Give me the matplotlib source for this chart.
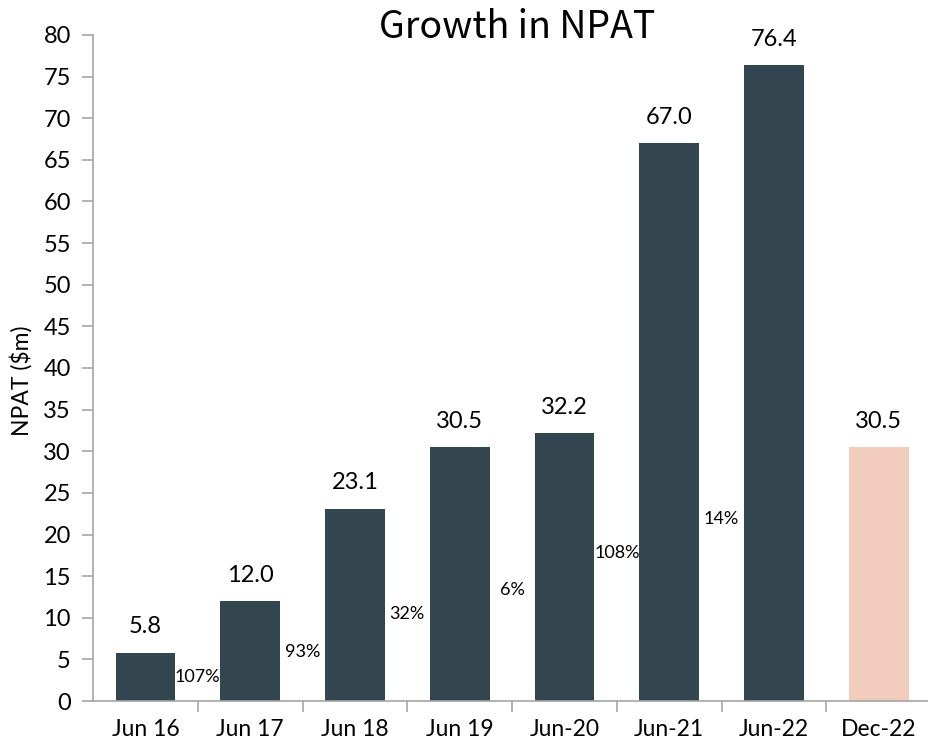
import matplotlib
matplotlib.use("Agg")
import matplotlib.pyplot as plt
import numpy as np

categories = ["Jun 16", "Jun 17", "Jun 18", "Jun 19", "Jun-20", "Jun-21", "Jun-22", "Dec-22"]
npat = [5.8, 12.0, 23.1, 30.5, 32.2, 67.0, 76.4, 30.5]
growth_labels = ["107%", "93%", "32%", "6%", "108%", "14%"]
growth_label_y = [2.9, 5.9, 10.5, 13.3, 17.8, 21.9]
bar_colors = ["#33454F"] * 7 + ["#F2CDBD"]

plt.rcParams['font.family'] = ['Lato', 'DejaVu Sans']

fig = plt.figure(figsize=(9.29, 7.5), dpi=100)
ax = fig.add_axes([93/929, 49/750, 836/929, 666/750])

x = np.arange(len(categories))
ax.bar(x, npat, width=0.57, color=bar_colors, zorder=2)

for xi, v in zip(x, npat):
    ax.annotate(f"{v:.1f}", (xi, v), xytext=(0, 11), textcoords="offset points",
                ha="center", va="bottom", fontsize=17, color="black")

for i, (lab, yv) in enumerate(zip(growth_labels, growth_label_y)):
    ax.text(i + 0.5, yv, lab, ha="center", va="center", fontsize=13, color="black")

ax.set_xlim(-0.5, 7.5 - 0.02)
ax.set_ylim(0, 80)
ax.set_yticks(np.arange(0, 81, 5))
ax.tick_params(axis='y', labelsize=17, length=8, color="#A6A6A6", width=1.2, pad=8)

ax.set_xticks(x)
ax.set_xticklabels(categories)
ax.set_xticks(np.arange(0.5, 7, 1), minor=True)
ax.tick_params(axis='x', which='major', length=0, labelsize=16.5, pad=13)
ax.tick_params(axis='x', which='minor', length=8, color="#A6A6A6", width=1.2)

for s in ["top", "right"]:
    ax.spines[s].set_visible(False)
for s in ["left", "bottom"]:
    ax.spines[s].set_color("#A6A6A6")
    ax.spines[s].set_linewidth(1.2)

ax.set_ylabel("NPAT ($m)", fontsize=16.5)
ax.yaxis.set_label_coords(-(93 - 33) / 836, (701 - 381) / 666)

fig.text(517/929, 1 - 27/750, "Growth in NPAT", ha="center", va="center",
         fontsize=27, family=['Noto Sans CJK JP', 'DejaVu Sans'])

fig.savefig("out.png", dpi=100)
